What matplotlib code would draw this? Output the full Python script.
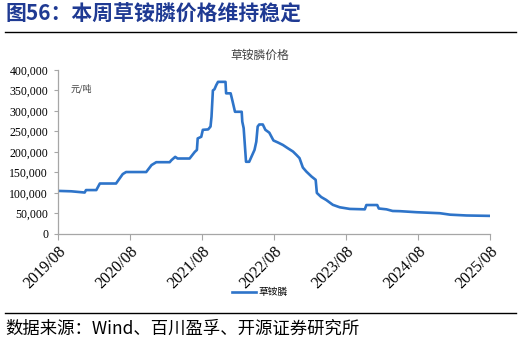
import matplotlib
matplotlib.use("Agg")
import matplotlib.pyplot as plt
import pandas as pd
from matplotlib.ticker import FuncFormatter

plt.rcParams['font.family'] = ['Noto Sans CJK SC', 'DejaVu Sans']

# 草铵膦价格 (元/吨)
dates = ["2019-08-01", "2019-10-08", "2019-12-15", "2019-12-22", "2020-02-12", "2020-03-01",
         "2020-05-22", "2020-06-25", "2020-07-12", "2020-10-22", "2020-11-18", "2020-12-12",
         "2021-02-18", "2021-02-27", "2021-03-18", "2021-03-30", "2021-05-30", "2021-06-25",
         "2021-07-06", "2021-07-10", "2021-07-28", "2021-08-05", "2021-09-01", "2021-09-13",
         "2021-09-18", "2021-09-25", "2021-10-03", "2021-10-12", "2021-10-21", "2021-11-28",
         "2021-12-01", "2021-12-24", "2022-01-03", "2022-01-15", "2022-02-18", "2022-02-21",
         "2022-02-28", "2022-03-12", "2022-03-28", "2022-04-24", "2022-05-03", "2022-05-10",
         "2022-05-18", "2022-06-05", "2022-06-18", "2022-07-08", "2022-07-29", "2022-08-21",
         "2022-09-15", "2022-10-10", "2022-11-05", "2022-11-22", "2022-12-08", "2022-12-25",
         "2023-01-12", "2023-02-07", "2023-02-28", "2023-03-06", "2023-03-28", "2023-04-22",
         "2023-05-26", "2023-06-30", "2023-08-20", "2023-11-04", "2023-11-12", "2024-01-06",
         "2024-01-14", "2024-02-22", "2024-03-24", "2024-04-30", "2024-07-22", "2024-11-19",
         "2025-01-09", "2025-04-03", "2025-08-01"]
prices = [105000, 104000, 101000, 107000, 107000, 123000,
          123000, 146000, 151000, 151000, 168000, 175000,
          175000, 180000, 188000, 184000, 184000, 200000,
          205000, 233000, 237000, 254000, 255000, 262000,
          286000, 350000, 353000, 363000, 371000, 371000,
          343000, 343000, 323000, 298000, 298000, 274000,
          258000, 176000, 176000, 205000, 225000, 262000,
          267000, 267000, 254000, 247000, 228000, 223000,
          217000, 209000, 201000, 193000, 185000, 162000,
          152000, 140000, 132000, 100000, 90000, 83000,
          71000, 65000, 61000, 60000, 70500, 70500,
          62000, 60000, 56000, 55500, 53000, 50500,
          47000, 45000, 44000]
tick_dates = ["2019-08-01", "2020-08-01", "2021-08-01", "2022-08-01",
              "2023-08-01", "2024-08-01", "2025-08-01"]
tick_labels = ["2019/08", "2020/08", "2021/08", "2022/08", "2023/08", "2024/08", "2025/08"]

x = pd.to_datetime(dates)
xt = pd.to_datetime(tick_dates)

fig = plt.figure(figsize=(5.21, 3.43), dpi=100)
ax = fig.add_axes([0.111, 0.318, 0.830, 0.478])

ax.plot(x, prices, color='#2E74C9', linewidth=1.9, label='草铵膦')

ax.set_xlim(xt[0], xt[-1])
ax.set_ylim(0, 400000)
ax.set_yticks(range(0, 400001, 50000))
ax.yaxis.set_major_formatter(FuncFormatter(lambda v, p: f"{int(v):,}"))
ax.set_xticks(xt)
ax.set_xticklabels(tick_labels, rotation=45, ha='right', rotation_mode='anchor',
                   family='Liberation Serif', fontsize=11.5)
for lab in ax.get_yticklabels():
    lab.set_family('Liberation Serif')
    lab.set_fontsize(8.5)

for s in ['top', 'right']:
    ax.spines[s].set_visible(False)
for s in ['left', 'bottom']:
    ax.spines[s].set_color('#a6a6a6')
    ax.spines[s].set_linewidth(0.9)
ax.tick_params(axis='y', length=3, color='#a6a6a6', pad=4)
ax.tick_params(axis='x', length=4, color='#a6a6a6', pad=3)

ax.text(0.03, 0.87, '元/吨', transform=ax.transAxes, fontsize=6.5, color='#404040')
ax.set_title('草铵膦价格', fontsize=8.5, color='#404040', pad=8, loc='center', x=0.467)

ax.legend(loc='upper center', bbox_to_anchor=(0.467, -0.27), frameon=False,
          fontsize=7, handlelength=2.5, handletextpad=0.3)

fig.text(0.01, 0.958, '图56：本周草铵膦价格维持稳定', fontsize=15, fontweight='bold',
         color='#1F3A93', va='center')
fig.add_artist(plt.Line2D([0.01, 0.99], [0.907, 0.907], color='black', linewidth=1.0))
fig.add_artist(plt.Line2D([0.01, 0.99], [0.087, 0.087], color='black', linewidth=1.0))
fig.text(0.01, 0.043, '数据来源：Wind、百川盈孚、开源证券研究所', fontsize=12.5,
         color='black', va='center')

fig.savefig('out.png', dpi=100)
